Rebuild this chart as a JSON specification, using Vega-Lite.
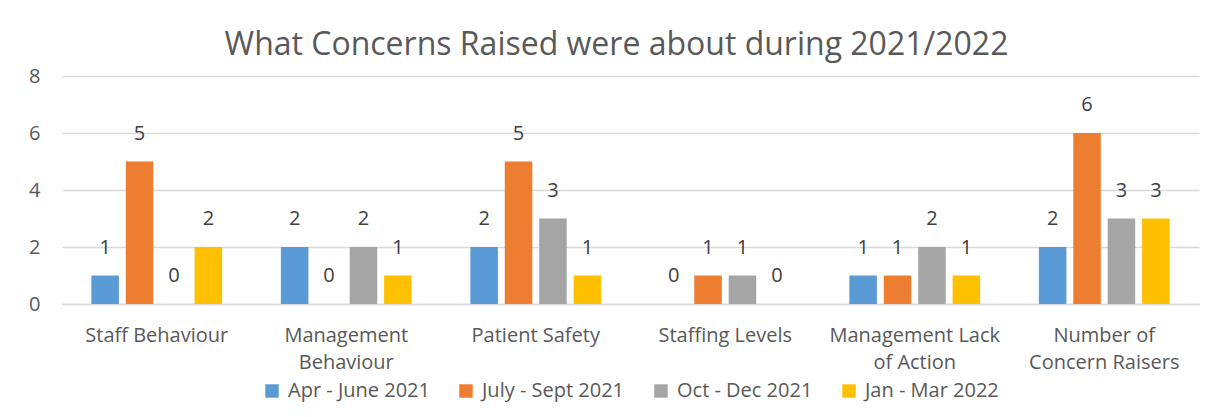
{
  "$schema": "https://vega.github.io/schema/vega-lite/v6.json",
  "width": 1137,
  "height": 228,
  "autosize": {"type": "none"},
  "padding": {"left": 62, "top": 76, "right": 21, "bottom": 113},
  "background": "white",
  "title": {
    "text": "What Concerns Raised were about during 2021/2022",
    "font": "Open Sans",
    "fontSize": 32,
    "fontWeight": "normal",
    "color": "#595959",
    "anchor": "middle",
    "dx": -14,
    "offset": 4
  },
  "data": {
    "values": [
      {"category": "Staff Behaviour", "period": "Apr - June 2021", "value": 1},
      {"category": "Staff Behaviour", "period": "July - Sept 2021", "value": 5},
      {"category": "Staff Behaviour", "period": "Oct - Dec 2021", "value": 0},
      {"category": "Staff Behaviour", "period": "Jan - Mar 2022", "value": 2},
      {"category": "Management Behaviour", "period": "Apr - June 2021", "value": 2},
      {"category": "Management Behaviour", "period": "July - Sept 2021", "value": 0},
      {"category": "Management Behaviour", "period": "Oct - Dec 2021", "value": 2},
      {"category": "Management Behaviour", "period": "Jan - Mar 2022", "value": 1},
      {"category": "Patient Safety", "period": "Apr - June 2021", "value": 2},
      {"category": "Patient Safety", "period": "July - Sept 2021", "value": 5},
      {"category": "Patient Safety", "period": "Oct - Dec 2021", "value": 3},
      {"category": "Patient Safety", "period": "Jan - Mar 2022", "value": 1},
      {"category": "Staffing Levels", "period": "Apr - June 2021", "value": 0},
      {"category": "Staffing Levels", "period": "July - Sept 2021", "value": 1},
      {"category": "Staffing Levels", "period": "Oct - Dec 2021", "value": 1},
      {"category": "Staffing Levels", "period": "Jan - Mar 2022", "value": 0},
      {"category": "Management Lack of Action", "period": "Apr - June 2021", "value": 1},
      {"category": "Management Lack of Action", "period": "July - Sept 2021", "value": 1},
      {"category": "Management Lack of Action", "period": "Oct - Dec 2021", "value": 2},
      {"category": "Management Lack of Action", "period": "Jan - Mar 2022", "value": 1},
      {"category": "Number of Concern Raisers", "period": "Apr - June 2021", "value": 2},
      {"category": "Number of Concern Raisers", "period": "July - Sept 2021", "value": 6},
      {"category": "Number of Concern Raisers", "period": "Oct - Dec 2021", "value": 3},
      {"category": "Number of Concern Raisers", "period": "Jan - Mar 2022", "value": 3}
    ]
  },
  "encoding": {
    "x": {
      "field": "category",
      "type": "nominal",
      "sort": null,
      "scale": {"paddingInner": 0.31, "paddingOuter": 0.155},
      "axis": {
        "title": null,
        "labelAngle": 0,
        "labelFont": "Open Sans",
        "labelFontSize": 20,
        "labelColor": "#595959",
        "labelPadding": 21,
        "labelLineHeight": 27,
        "ticks": false,
        "domainColor": "#D9D9D9",
        "domainWidth": 1.5,
        "labelExpr": "datum.label == 'Management Behaviour' ? ['Management', 'Behaviour'] : datum.label == 'Management Lack of Action' ? ['Management Lack', 'of Action'] : datum.label == 'Number of Concern Raisers' ? ['Number of', 'Concern Raisers'] : datum.label"
      }
    },
    "xOffset": {
      "field": "period",
      "type": "nominal",
      "sort": ["Apr - June 2021", "July - Sept 2021", "Oct - Dec 2021", "Jan - Mar 2022"],
      "scale": {"paddingInner": 0.2}
    },
    "y": {
      "field": "value",
      "type": "quantitative",
      "scale": {"domain": [0, 8]},
      "axis": {
        "title": null,
        "values": [0, 2, 4, 6, 8],
        "labelFont": "Open Sans",
        "labelFontSize": 20,
        "labelColor": "#595959",
        "labelPadding": 22,
        "ticks": false,
        "domain": false,
        "gridColor": "#D9D9D9",
        "gridWidth": 1.5
      }
    }
  },
  "layer": [
    {
      "mark": {"type": "bar"},
      "encoding": {
        "color": {
          "field": "period",
          "type": "nominal",
          "sort": ["Apr - June 2021", "July - Sept 2021", "Oct - Dec 2021", "Jan - Mar 2022"],
          "scale": {
            "domain": ["Apr - June 2021", "July - Sept 2021", "Oct - Dec 2021", "Jan - Mar 2022"],
            "range": ["#5B9BD5", "#ED7D31", "#A5A5A5", "#FFC000"]
          },
          "legend": {
            "title": null,
            "orient": "bottom",
            "direction": "horizontal",
            "offset": 9,
            "symbolType": "square",
            "symbolSize": 180,
            "symbolStrokeWidth": 0,
            "labelFont": "Open Sans",
            "labelFontSize": 20,
            "labelColor": "#595959",
            "columnPadding": 26,
            "labelOffset": 6
          }
        }
      }
    },
    {
      "mark": {
        "type": "text",
        "baseline": "middle",
        "dy": -28,
        "font": "Open Sans",
        "fontSize": 20,
        "color": "#404040"
      },
      "encoding": {
        "text": {"field": "value", "type": "quantitative"}
      }
    }
  ],
  "config": {
    "view": {"stroke": null},
    "legend": {"layout": {"bottom": {"anchor": "middle"}}}
  }
}
